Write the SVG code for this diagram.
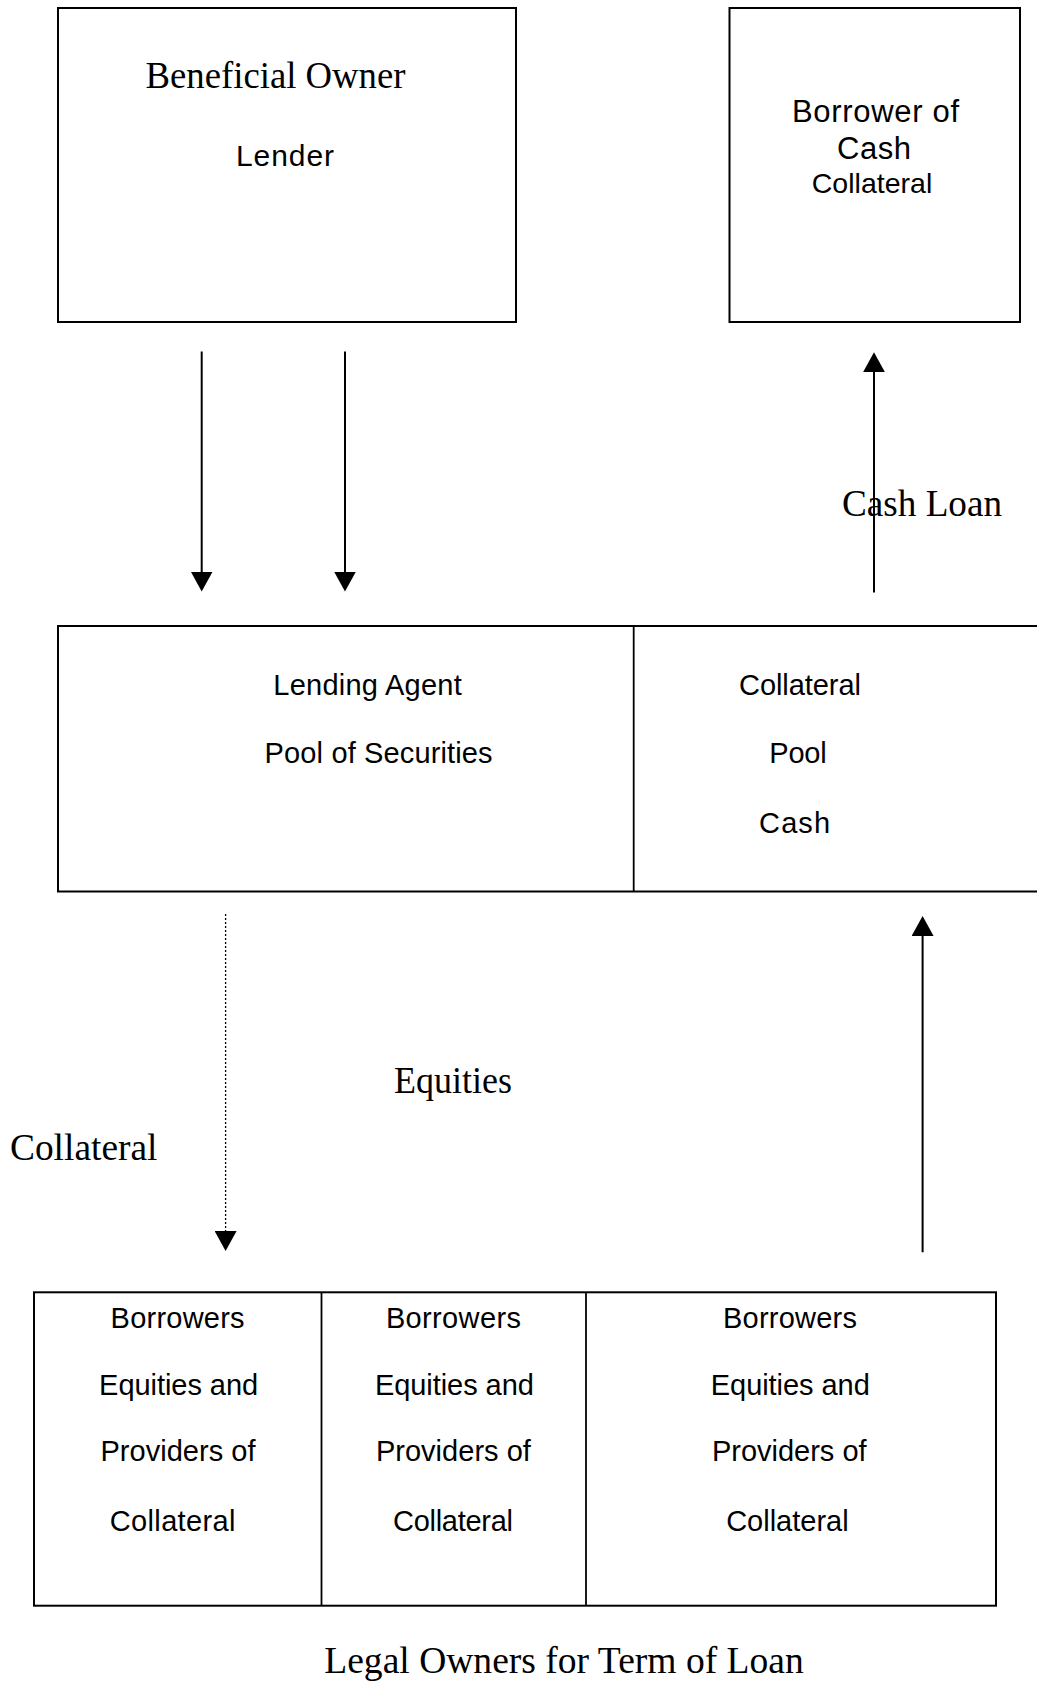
<svg xmlns="http://www.w3.org/2000/svg" width="1037" height="1681" viewBox="0 0 1037 1681">
<style>
.box{fill:none;stroke:#000;stroke-width:2}
.div{stroke:#000;stroke-width:1.8}
.line{stroke:#000;stroke-width:2;fill:none}
.dot{stroke:#000;stroke-width:1.3;stroke-dasharray:2 2;fill:none}
.serif{font-family:"Liberation Serif","Times New Roman",serif;font-size:37px;fill:#000}
.sans{font-family:"Liberation Sans",Arial,sans-serif;font-size:29px;fill:#000}
text{text-anchor:middle}
</style>
<defs>
<marker id="ah" viewBox="0 0 20 22" refX="10" refY="11" markerWidth="20" markerHeight="22" markerUnits="userSpaceOnUse" orient="auto">
<path d="M0,0 L20,11 L0,22 z" fill="#000"/>
</marker>
</defs>
<rect width="1037" height="1681" fill="#fff"/>
<g id="beneficial-owner">
<rect class="box" x="58" y="8" width="458" height="314"/>
<text class="serif" x="275.5" y="88" textLength="260" lengthAdjust="spacingAndGlyphs">Beneficial Owner</text>
<text class="sans" x="285" y="166" style="font-size:30px" textLength="98">Lender</text>
</g>
<g id="borrower-of-cash">
<rect class="box" x="729.5" y="8" width="290.5" height="314"/>
<text class="sans" x="875.5" y="122" style="font-size:31px" textLength="167">Borrower of</text>
<text class="sans" x="874" y="159" style="font-size:31px" textLength="74">Cash</text>
<text class="sans" x="872" y="193" style="font-size:28.5px" textLength="120.5">Collateral</text>
</g>
<g id="lending-agent">
<path class="box" d="M1037,626 H58 V891.5 H1037"/>
<line class="div" x1="633.7" y1="626" x2="633.7" y2="891.5"/>
<text class="sans" x="367.5" y="695" textLength="188.5">Lending Agent</text>
<text class="sans" x="378.6" y="763" textLength="228">Pool of Securities</text>
<text class="sans" x="800" y="695" textLength="122">Collateral</text>
<text class="sans" x="798" y="763" textLength="57.5">Pool</text>
<text class="sans" x="794.6" y="833" textLength="71">Cash</text>
</g>
<g id="borrowers">
<rect class="box" x="34" y="1292.3" width="962" height="313.4"/>
<line class="div" x1="321.5" y1="1292.3" x2="321.5" y2="1605.7"/>
<line class="div" x1="586" y1="1292.3" x2="586" y2="1605.7"/>
<text class="sans" x="177.6" y="1327.7" textLength="134">Borrowers</text>
<text class="sans" x="178.6" y="1395" textLength="159">Equities and</text>
<text class="sans" x="178" y="1461" textLength="155">Providers of</text>
<text class="sans" x="172.6" y="1530.7" textLength="125.6">Collateral</text>
<text class="sans" x="453.4" y="1327.7" textLength="135">Borrowers</text>
<text class="sans" x="454.4" y="1395" textLength="159">Equities and</text>
<text class="sans" x="453.4" y="1461" textLength="155">Providers of</text>
<text class="sans" x="453" y="1530.7" textLength="120">Collateral</text>
<text class="sans" x="790" y="1327.7" textLength="134">Borrowers</text>
<text class="sans" x="790.3" y="1395" textLength="159">Equities and</text>
<text class="sans" x="789.3" y="1461" textLength="154.5">Providers of</text>
<text class="sans" x="787.4" y="1530.7" textLength="122.5">Collateral</text>
</g>
<g id="connectors">
<line class="line" x1="201.7" y1="351.5" x2="201.7" y2="581.5" marker-end="url(#ah)"/>
<line class="line" x1="345" y1="351.5" x2="345" y2="581.5" marker-end="url(#ah)"/>
<line class="line" x1="874" y1="592.5" x2="874" y2="362.3" marker-end="url(#ah)"/>
<line class="dot" x1="225.6" y1="914" x2="225.6" y2="1241" marker-end="url(#ah)"/>
<line class="line" x1="922.6" y1="1252.3" x2="922.6" y2="926" marker-end="url(#ah)"/>
</g>
<g id="labels">
<text class="serif" x="922" y="516" textLength="160" lengthAdjust="spacingAndGlyphs">Cash Loan</text>
<text class="serif" x="453" y="1093" textLength="118" lengthAdjust="spacingAndGlyphs">Equities</text>
<text class="serif" x="83.7" y="1159.5" textLength="147.5" lengthAdjust="spacingAndGlyphs">Collateral</text>
<text class="serif" x="564" y="1673" textLength="479.5" lengthAdjust="spacingAndGlyphs">Legal Owners for Term of Loan</text>
</g>
</svg>
